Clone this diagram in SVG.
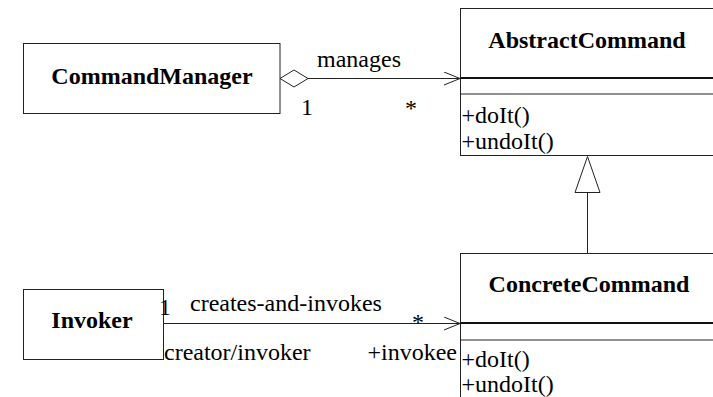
<svg xmlns="http://www.w3.org/2000/svg" width="713" height="397" viewBox="0 0 713 397">
  <defs>
    <style>
      .box { fill: #fff; stroke: #222; stroke-width: 1; }
      .sep { stroke: #222; stroke-width: 1; }
      .sep-thick { stroke: #111; stroke-width: 2.2; }
      .edge { fill: none; stroke: #222; stroke-width: 1; }
      text { font-family: 'Liberation Serif', 'Times New Roman', Tinos, Times, 'DejaVu Serif', serif; font-size: 24px; fill: #000; }
      .title { font-weight: bold; }
    </style>
    <marker id="open-arrow" viewBox="0 0 17 14" refX="16.5" refY="7" markerWidth="17" markerHeight="14" markerUnits="userSpaceOnUse" orient="auto">
      <path d="M0.5,0.5 L16.5,7 L0.5,13.5" fill="none" stroke="#222" stroke-width="1"/>
    </marker>
  </defs>

  <!-- classes -->
  <g id="CommandManager">
    <rect class="box" x="23.5" y="43.5" width="256.5" height="70"/>
    <text class="title" x="152" y="84" text-anchor="middle">CommandManager</text>
  </g>

  <g id="AbstractCommand">
    <rect class="box" x="460.5" y="8.5" width="254" height="147"/>
    <line class="sep-thick" x1="460.5" y1="78" x2="714" y2="78"/>
    <line class="sep" x1="460.5" y1="94" x2="714" y2="94"/>
    <text class="title" x="587" y="48" text-anchor="middle">AbstractCommand</text>
    <text class="label" x="461.5" y="123">+doIt()</text>
    <text class="label" x="461.5" y="149">+undoIt()</text>
  </g>

  <g id="Invoker">
    <rect class="box" x="23.5" y="289.5" width="140" height="70"/>
    <text class="title" x="92" y="328" text-anchor="middle">Invoker</text>
  </g>

  <g id="ConcreteCommand">
    <rect class="box" x="460.5" y="253.5" width="254" height="160"/>
    <line class="sep-thick" x1="460.5" y1="323" x2="714" y2="323"/>
    <line class="sep" x1="460.5" y1="340" x2="714" y2="340"/>
    <text class="title" x="589" y="292" text-anchor="middle">ConcreteCommand</text>
    <text class="label" x="461.5" y="367">+doIt()</text>
    <text class="label" x="461.5" y="392">+undoIt()</text>
  </g>

  <!-- relationships -->
  <g id="connectors">
    <!-- aggregation: CommandManager manages AbstractCommand -->
    <polygon points="280,78.5 294,70 308,78.5 294,87" fill="#fff" stroke="#222" stroke-width="1"/>
    <line class="edge" x1="308" y1="78.5" x2="460" y2="78.5" marker-end="url(#open-arrow)"/>
    <text class="label" x="317" y="67">manages</text>
    <text class="label" x="301" y="115">1</text>
    <text class="label" x="405" y="116">*</text>

    <!-- generalization: ConcreteCommand extends AbstractCommand -->
    <line class="edge" x1="587.5" y1="192.5" x2="587.5" y2="253.5"/>
    <polygon points="587.5,156.5 600,192.5 575,192.5" fill="#fff" stroke="#222" stroke-width="1"/>

    <!-- association: Invoker creates-and-invokes ConcreteCommand -->
    <line class="edge" x1="163.5" y1="323.5" x2="460" y2="323.5" marker-end="url(#open-arrow)"/>
    <text class="label" x="159" y="315">1</text>
    <text class="label" x="190" y="311">creates-and-invokes</text>
    <text class="label" x="412" y="330">*</text>
    <text class="label" x="164" y="360">creator/invoker</text>
    <text class="label" x="457" y="360" text-anchor="end">+invokee</text>
  </g>
</svg>
